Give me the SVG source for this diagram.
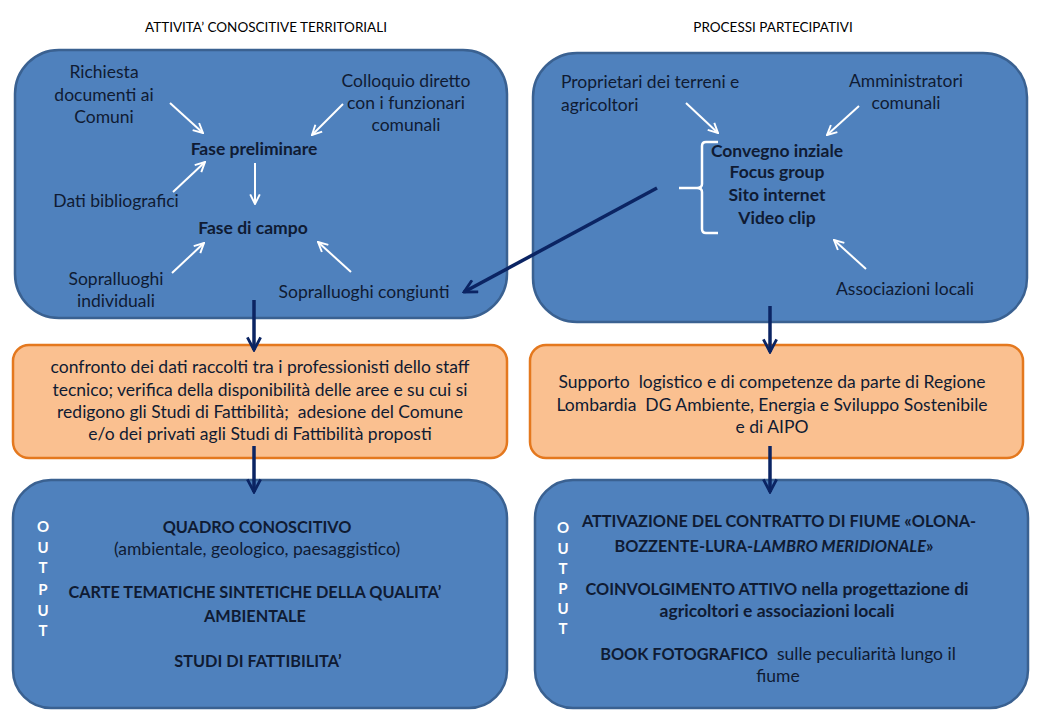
<svg xmlns="http://www.w3.org/2000/svg" width="1040" height="720" viewBox="0 0 1040 720">
<defs>
<style>
.t{font-family:Lato,"Liberation Sans",sans-serif;font-size:17.5px;fill:#0f1b33;text-anchor:middle}
.b{font-weight:bold}
.c{font-size:16.3px}
.h{font-family:Lato,"Liberation Sans",sans-serif;font-size:13.5px;fill:#000;text-anchor:middle}
.o{font-family:Lato,"Liberation Sans",sans-serif;font-size:15px;font-weight:bold;fill:#fff;text-anchor:middle}
.p{white-space:pre}
.blue{fill:#4F81BD;stroke:#3A6191;stroke-width:2.5}
.orange{fill:#FAC090;stroke:#E4781E;stroke-width:2.5}
.wa{stroke:#fff;stroke-width:2;fill:none;marker-end:url(#wh)}
.na{stroke:#0B2463;stroke-width:3.5;fill:none;marker-end:url(#nh)}
</style>
<marker id="wh" viewBox="0 0 10 10" refX="9" refY="5" markerWidth="6" markerHeight="6" orient="auto" markerUnits="strokeWidth">
<path d="M1,1 L9,5 L1,9" fill="none" stroke="#fff" stroke-width="1.6"/>
</marker>
<marker id="nh" viewBox="0 0 10 10" refX="9" refY="5" markerWidth="4.5" markerHeight="4.5" orient="auto" markerUnits="strokeWidth">
<path d="M1,0.8 L9,5 L1,9.2" fill="none" stroke="#0B2463" stroke-width="1.8"/>
</marker>
</defs>
<rect width="1040" height="720" fill="#fff"/>

<text class="h" x="266" y="32">ATTIVITA’ CONOSCITIVE TERRITORIALI</text>
<text class="h" x="773" y="32">PROCESSI PARTECIPATIVI</text>

<g id="box-attivita">
<rect class="blue" x="15" y="50" width="492" height="268" rx="44"/>
<text class="t" x="104" y="78">Richiesta</text>
<text class="t" x="104" y="101">documenti ai</text>
<text class="t" x="104" y="123">Comuni</text>
<text class="t" x="406" y="87">Colloquio diretto</text>
<text class="t" x="406" y="109">con i funzionari</text>
<text class="t" x="406" y="131">comunali</text>
<text class="t b" x="254" y="155">Fase preliminare</text>
<text class="t" x="116" y="207">Dati bibliografici</text>
<text class="t b" x="253" y="234">Fase di campo</text>
<text class="t" x="116" y="285">Sopralluoghi</text>
<text class="t" x="116" y="307">individuali</text>
<text class="t" x="364" y="298">Sopralluoghi congiunti</text>
</g>

<g id="box-processi">
<rect class="blue" x="533" y="53" width="494" height="269" rx="44"/>
<text class="t" x="561" y="88" style="text-anchor:start">Proprietari dei terreni e</text>
<text class="t" x="561" y="111" style="text-anchor:start">agricoltori</text>
<text class="t" x="906" y="87">Amministratori</text>
<text class="t" x="906" y="109">comunali</text>
<path d="M718,142 L706,142 Q702,142 702,146 L702,184 Q702,188 697,188 L679,188 M697,188 Q702,188 702,192 L702,229 Q702,233 706,233 L718,233" fill="none" stroke="#fff" stroke-width="2.5"/>
<text class="t b" x="777" y="157">Convegno inziale</text>
<text class="t b" x="777" y="178">Focus group</text>
<text class="t b" x="777" y="201">Sito internet</text>
<text class="t b" x="777" y="224">Video clip</text>
<text class="t" x="905" y="295">Associazioni locali</text>
</g>

<g id="box-confronto">
<rect class="orange" x="13" y="345" width="494" height="113" rx="16"/>
<text class="t" x="260" y="373">confronto dei dati raccolti tra i professionisti dello staff</text>
<text class="t" x="260" y="396">tecnico; verifica della disponibilità delle aree e su cui si</text>
<text class="t p" x="260" y="418">redigono gli Studi di Fattibilità;  adesione del Comune</text>
<text class="t" x="260" y="440">e/o dei privati agli Studi di Fattibilità proposti</text>
</g>

<g id="box-supporto">
<rect class="orange" x="530" y="345" width="493" height="113" rx="16"/>
<text class="t p" x="772" y="388">Supporto  logistico e di competenze da parte di Regione</text>
<text class="t p" x="772" y="411">Lombardia  DG Ambiente, Energia e Sviluppo Sostenibile</text>
<text class="t" x="772" y="433">e di AIPO</text>
</g>

<g id="box-output-left">
<rect class="blue" x="13" y="480" width="494" height="228" rx="38"/>
<text class="o" x="43" y="532">O</text>
<text class="o" x="43" y="553">U</text>
<text class="o" x="43" y="573">T</text>
<text class="o" x="43" y="595">P</text>
<text class="o" x="43" y="616">U</text>
<text class="o" x="43" y="636">T</text>
<text class="t b c" x="257" y="533">QUADRO CONOSCITIVO</text>
<text class="t" x="257" y="555">(ambientale, geologico, paesaggistico)</text>
<text class="t b c" x="255" y="598">CARTE TEMATICHE SINTETICHE DELLA QUALITA’</text>
<text class="t b c" x="255" y="622">AMBIENTALE</text>
<text class="t b c" x="258" y="667">STUDI DI FATTIBILITA’</text>
</g>

<g id="box-output-right">
<rect class="blue" x="535" y="480" width="493" height="228" rx="38"/>
<text class="o" x="563" y="533">O</text>
<text class="o" x="563" y="554">U</text>
<text class="o" x="563" y="574">T</text>
<text class="o" x="563" y="594">P</text>
<text class="o" x="563" y="614">U</text>
<text class="o" x="563" y="634">T</text>
<text class="t b c" x="779" y="527">ATTIVAZIONE DEL CONTRATTO DI FIUME «OLONA-</text>
<text class="t b c" x="774" y="552">BOZZENTE-LURA-<tspan font-style="italic">LAMBRO MERIDIONALE</tspan>»</text>
<text class="t b" x="777" y="595"><tspan font-size="16.3px">COINVOLGIMENTO ATTIVO</tspan> nella progettazione di</text>
<text class="t b" x="777" y="617">agricoltori e associazioni locali</text>
<text class="t p" x="778" y="660"><tspan font-weight="bold" font-size="16.3px">BOOK FOTOGRAFICO</tspan>  sulle peculiarità lungo il</text>
<text class="t" x="778" y="682">fiume</text>
</g>

<g id="connectors">
<line class="wa" x1="170" y1="103" x2="203" y2="133"/>
<line class="wa" x1="343" y1="104" x2="312" y2="135"/>
<line class="wa" x1="173" y1="192" x2="205" y2="162"/>
<line class="wa" x1="255" y1="163" x2="255" y2="204"/>
<line class="wa" x1="172" y1="273" x2="204" y2="243"/>
<line class="wa" x1="351" y1="272" x2="318" y2="242"/>
<line class="wa" x1="686" y1="103" x2="718" y2="133"/>
<line class="wa" x1="859" y1="106" x2="827" y2="135"/>
<line class="wa" x1="866" y1="269" x2="834" y2="240"/>
<line class="na" x1="657" y1="188" x2="464" y2="292"/>
<line class="na" x1="254" y1="300" x2="254" y2="350"/>
<line class="na" x1="254" y1="446" x2="254" y2="492"/>
<line class="na" x1="770" y1="306" x2="770" y2="352"/>
<line class="na" x1="770" y1="446" x2="770" y2="492"/>
</g>
</svg>
